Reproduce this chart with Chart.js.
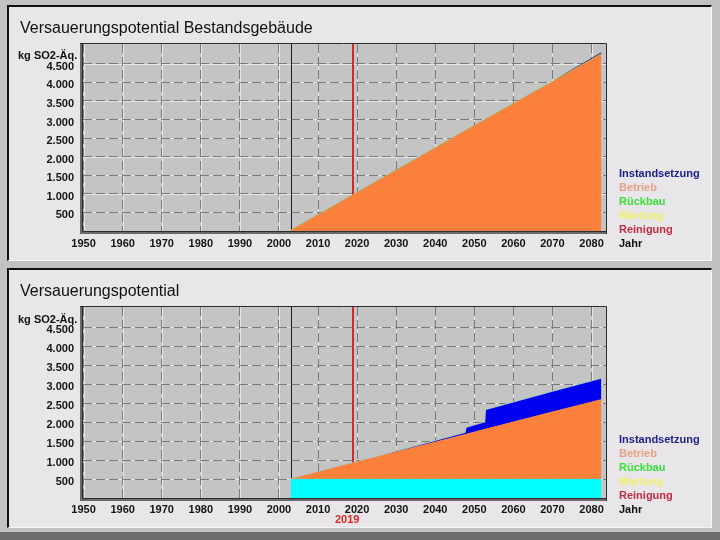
<!DOCTYPE html>
<html lang="de">
<head>
<meta charset="utf-8">
<title>Versauerungspotential</title>
<script src="https://cdn.jsdelivr.net/npm/chart.js@4.4.1/dist/chart.umd.min.js"></script>
<style>
  html, body { margin: 0; padding: 0; }
  body { width: 720px; height: 540px; position: relative; overflow: hidden; background: #c2c2c2; font-family: "Liberation Sans", Arial, sans-serif; }
  .panel { position: absolute; left: 7px; width: 705px; box-sizing: border-box; background: #e8e6e8;
           border-top: 2px solid #111; border-left: 2px solid #111; border-right: 1px solid #f6f6f6; border-bottom: 1px solid #f6f6f6; }
  #panelTop { top: 5px; height: 256px; }
  #panelBottom { top: 268px; height: 260px; }
  .strip { position: absolute; left: 0; top: 532px; width: 720px; height: 8px; background: #6c6c6c; }
  canvas { position: absolute; left: 0; }
  .title { position: absolute; left: 20px; font-size: 16px; line-height: 16px; color: #111; white-space: nowrap; }
  .unit { position: absolute; left: 18px; font-size: 11px; line-height: 11px; font-weight: bold; color: #111; white-space: nowrap; }
  .legend { position: absolute; left: 619px; font-size: 11px; line-height: 14px; font-weight: bold; white-space: nowrap; }
  .year { position: absolute; left: 335px; top: 512px; font-size: 11px; line-height: 14px; font-weight: bold; color: #e02828; }
</style>
</head>
<body>
<div class="panel" id="panelTop"></div>
<div class="panel" id="panelBottom"></div>
<div class="strip"></div>

<canvas id="chartTop" width="720" height="262" style="top:0"></canvas>
<canvas id="chartBottom" width="720" height="272" style="top:262px"></canvas>

<div class="title" style="top:20px">Versauerungspotential Bestandsgebäude</div>
<div class="unit" style="top:50px">kg SO2-Äq.</div>
<div class="legend" style="top:166px">
  <div style="color:#20208c">Instandsetzung</div>
  <div style="color:#e4a284">Betrieb</div>
  <div style="color:#3ce03c">Rückbau</div>
  <div style="color:#f2f06a">Wartung</div>
  <div style="color:#c42a44">Reinigung</div>
  <div style="color:#111">Jahr</div>
</div>

<div class="title" style="top:283px">Versauerungspotential</div>
<div class="unit" style="top:314px">kg SO2-Äq.</div>
<div class="legend" style="top:432px">
  <div style="color:#20208c">Instandsetzung</div>
  <div style="color:#e4a284">Betrieb</div>
  <div style="color:#3ce03c">Rückbau</div>
  <div style="color:#f2f06a">Wartung</div>
  <div style="color:#c42a44">Reinigung</div>
  <div style="color:#111">Jahr</div>
</div>
<div class="year">2019</div>

<script>
// axis ticks
const xTicks = [1950, 1960, 1970, 1980, 1990, 2000, 2010, 2020, 2030, 2040, 2050, 2060, 2070, 2080];
const yTicks = [500, 1000, 1500, 2000, 2500, 3000, 3500, 4000, 4500];
const markerYears = [2003, 2019];

// Bestandsgebäude (top)
const topYears          = [2003, 2010, 2019, 2030, 2040, 2050, 2060, 2070, 2074, 2082.5];
const topBetrieb        = [0, 420, 960, 1620, 2220, 2820, 3410, 4000, 4240, 4750];
const topRueckbau       = [20, 20, 20, 20, 20, 20, 20, 20, 20, 20];
const topInstandsetzung = [0, 0, 0, 0, 0, 0, 0, 0, 25, 40];

// Gesamt (bottom)
const bottomYears          = [2003, 2010, 2019, 2026, 2030, 2040, 2047.8, 2048, 2052.8, 2053, 2060, 2070, 2082.5];
const bottomHerstellung    = [490, 490, 490, 490, 490, 490, 490, 490, 490, 490, 490, 490, 490];
const bottomBetrieb        = [0, 185, 425, 610, 715, 980, 1185, 1190, 1320, 1325, 1510, 1775, 2100];
const bottomInstandsetzung = [0, 0, 0, 0, 15, 30, 45, 170, 185, 505, 515, 530, 550];
const bottomRueckbau       = [15, 15, 15, 15, 15, 15, 15, 15, 15, 15, 15, 15, 15];

const X_MIN = 1949.85;
const X_MAX = 2083.7;

const tickFont = { family: '"Liberation Sans", Arial, sans-serif', size: 11, weight: 'bold' };

function toPoints(years, values) {
  return years.map((x, i) => ({ x: x, y: values[i] }));
}

function formatThousands(v) {
  if (v < 1000) return String(v);
  return Math.floor(v / 1000) + '.' + String(v % 1000).padStart(3, '0');
}

function area(label, years, values, color, fill, edge) {
  return {
    label: label,
    data: toPoints(years, values),
    backgroundColor: color,
    borderColor: edge || color,
    borderWidth: 1,
    pointRadius: 0,
    fill: fill
  };
}

const plotFrame = {
  id: 'plotFrame',
  beforeDraw(chart) {
    const { ctx, chartArea: a, scales: { x, y } } = chart;
    ctx.save();
    ctx.fillStyle = '#c4c4c4';
    ctx.fillRect(a.left, a.top, a.right - a.left, a.bottom - a.top);
    // light line under the dashed grid
    ctx.strokeStyle = '#e6e6e6';
    ctx.lineWidth = 1;
    ctx.beginPath();
    xTicks.forEach(v => {
      const px = Math.round(x.getPixelForValue(v)) + 0.5;
      ctx.moveTo(px, a.top);
      ctx.lineTo(px, a.bottom);
    });
    yTicks.forEach(v => {
      const py = Math.round(y.getPixelForValue(v)) + 0.5;
      ctx.moveTo(a.left, py);
      ctx.lineTo(a.right, py);
    });
    ctx.stroke();
    ctx.restore();
  },
  beforeDatasetsDraw(chart) {
    const { ctx, chartArea: a, scales: { x } } = chart;
    ctx.save();
    let px = Math.round(x.getPixelForValue(markerYears[0])) + 0.5;
    ctx.strokeStyle = '#1c1c1c';
    ctx.lineWidth = 1;
    ctx.beginPath(); ctx.moveTo(px, a.top); ctx.lineTo(px, a.bottom); ctx.stroke();
    px = Math.round(x.getPixelForValue(markerYears[1]));
    ctx.strokeStyle = '#d22a2a';
    ctx.lineWidth = 2;
    ctx.beginPath(); ctx.moveTo(px, a.top); ctx.lineTo(px, a.bottom); ctx.stroke();
    ctx.restore();
  },
  afterDraw(chart) {
    const { ctx, chartArea: a } = chart;
    ctx.save();
    ctx.fillStyle = '#6a6a6a';
    ctx.fillRect(a.left - 3, a.top, 3, a.bottom - a.top + 3);
    ctx.fillRect(a.left - 3, a.bottom, a.right - a.left + 3, 3);
    ctx.strokeStyle = '#2a2a2a';
    ctx.lineWidth = 1;
    ctx.beginPath();
    ctx.moveTo(a.left - 3, a.top - 0.5); ctx.lineTo(a.right + 0.5, a.top - 0.5);
    ctx.lineTo(a.right + 0.5, a.bottom + 3);
    ctx.moveTo(a.left - 0.5, a.top); ctx.lineTo(a.left - 0.5, a.bottom + 0.5); ctx.lineTo(a.right, a.bottom + 0.5);
    ctx.stroke();
    ctx.restore();
  }
};

function buildChart(id, datasets, cfg) {
  return new Chart(document.getElementById(id), {
    type: 'line',
    data: { datasets: datasets },
    options: {
      responsive: false,
      animation: false,
      layout: { padding: { left: 0, right: 114, top: cfg.padTop, bottom: cfg.padBottom } },
      plugins: { legend: { display: false }, tooltip: { enabled: false } },
      elements: { line: { tension: 0 } },
      scales: {
        x: {
          type: 'linear',
          min: X_MIN,
          max: X_MAX,
          afterBuildTicks: s => { s.ticks = xTicks.map(v => ({ value: v })); },
          afterFit: s => { s.height = 20; },
          grid: { color: '#7a7a7a', drawTicks: false },
          border: { display: false, dash: [9, 4] },
          ticks: { padding: cfg.xPad, font: tickFont, color: '#141414', maxRotation: 0, autoSkip: false, callback: v => String(v) }
        },
        y: {
          stacked: true,
          min: 0,
          max: cfg.yMax,
          afterBuildTicks: s => { s.ticks = yTicks.map(v => ({ value: v })); },
          afterFit: s => { s.width = 83; },
          grid: { color: '#7a7a7a', drawTicks: false },
          border: { display: false, dash: [9, 4] },
          ticks: { padding: 9, labelOffset: 3, font: tickFont, color: '#141414', callback: formatThousands }
        }
      }
    },
    plugins: [plotFrame]
  });
}

buildChart('chartTop', [
  area('Betrieb', topYears, topBetrieb, '#fa803c', 'origin'),
  area('Rückbau', topYears, topRueckbau, '#98c070', '-1'),
  area('Instandsetzung', topYears, topInstandsetzung, '#101070', '-1', 'rgba(0,0,0,0)')
], { padTop: 44, padBottom: 11, xPad: 6, yMax: 5030 });

buildChart('chartBottom', [
  area('Herstellung', bottomYears, bottomHerstellung, '#00ffff', 'origin'),
  area('Betrieb', bottomYears, bottomBetrieb, '#fa803c', '-1'),
  area('Instandsetzung', bottomYears, bottomInstandsetzung, '#0000f0', '-1', 'rgba(0,0,0,0)'),
  area('Rückbau', bottomYears, bottomRueckbau, '#a8c8b8', '-1')
], { padTop: 45, padBottom: 16, xPad: 5, yMax: 5030 });
</script>
</body>
</html>
